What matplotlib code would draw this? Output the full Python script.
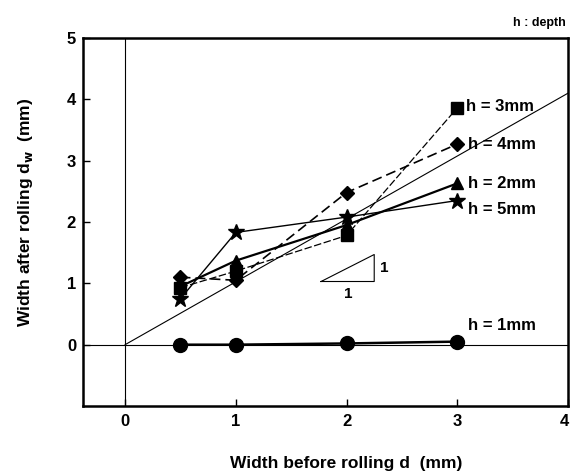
import numpy as np
import matplotlib.pyplot as plt
import matplotlib.transforms as mtransforms

plt.rcParams['font.family'] = ['Liberation Sans', 'DejaVu Sans']
plt.rcParams['font.weight'] = 'bold'
plt.rcParams['axes.labelweight'] = 'bold'
plt.rcParams['mathtext.default'] = 'bf'

# データ (幅 d -> 圧延後の幅 dw)
d = [0.5, 1, 2, 3]
h1 = [0.0, 0.0, 0.02, 0.05]
h2 = [0.95, 1.37, 1.95, 2.63]
h3 = [0.93, 1.2, 1.78, 3.86]
h4 = [1.1, 1.05, 2.48, 3.27]
h5 = [0.75, 1.83, 2.08, 2.35]

fig = plt.figure(figsize=(5.71, 4.73), dpi=100)
ax = fig.add_axes([0.1454, 0.1416, 0.8493, 0.7781])
ax.set_xlim(-0.38, 4)
ax.set_ylim(-1, 5)

# reference lines
ax.axhline(0, color='black', lw=0.8)
ax.axvline(0, color='black', lw=0.8)
ax.plot([0, 4], [0, 4.1], color='black', lw=0.8)

ax.plot(d, h1, color='black', lw=1.8, marker='o', ms=10)
ax.plot(d, h2, color='black', lw=1.6, marker='^', ms=9)
ax.plot(d, h3, color='black', lw=0.9, ls=(0, (6, 2)), marker='s', ms=9)
ax.plot(d, h4, color='black', lw=1.2, ls=(0, (6, 3)), marker='D', ms=7)
ax.plot(d, h5, color='black', lw=1.0, marker='*', ms=12)

fs = 12
ax.text(3.08, h3[-1] + 0.03, 'h = 3mm', fontsize=fs, va='center')
ax.text(3.1, h4[-1], 'h = 4mm', fontsize=fs, va='center')
ax.text(3.1, h2[-1], 'h = 2mm', fontsize=fs, va='center')
ax.text(3.1, 2.2, 'h = 5mm', fontsize=fs, va='center')
ax.text(3.1, 0.31, 'h = 1mm', fontsize=fs, va='center')

# slope triangle 1:1
ax.plot([1.77, 2.25, 2.25, 1.77], [1.03, 1.03, 1.47, 1.03], color='black', lw=0.8)
ax.text(2.3, 1.25, '1', fontsize=11, va='center')
ax.text(2.02, 0.82, '1', fontsize=11, ha='center', va='center')

ax.text(3.98, 5.15, 'h : depth', fontsize=9, ha='right', va='bottom')

ax.set_xticks([0, 1, 2, 3, 4])
ax.set_yticks([0, 1, 2, 3, 4, 5])
ax.tick_params(direction='in', length=5, labelsize=12, width=1)
ax.tick_params(axis='x', pad=6)
ax.tick_params(axis='y', pad=5)
for s in ax.spines.values():
    s.set_linewidth(1.8)

# keep the last x tick label inside the figure
last = ax.get_xticklabels()[-1]
last.set_transform(last.get_transform() + mtransforms.ScaledTranslation(-4 / 100, 0, fig.dpi_scale_trans))

ax.set_xlabel('Width before rolling d  (mm)', fontsize=12.5)
ax.set_ylabel('Width after rolling d$_w$  (mm)', fontsize=12.5)
ax.xaxis.set_label_coords(0.542, -0.135)
ax.yaxis.set_label_coords(-0.10, 0.527)

fig.savefig('out.png', dpi=100)
